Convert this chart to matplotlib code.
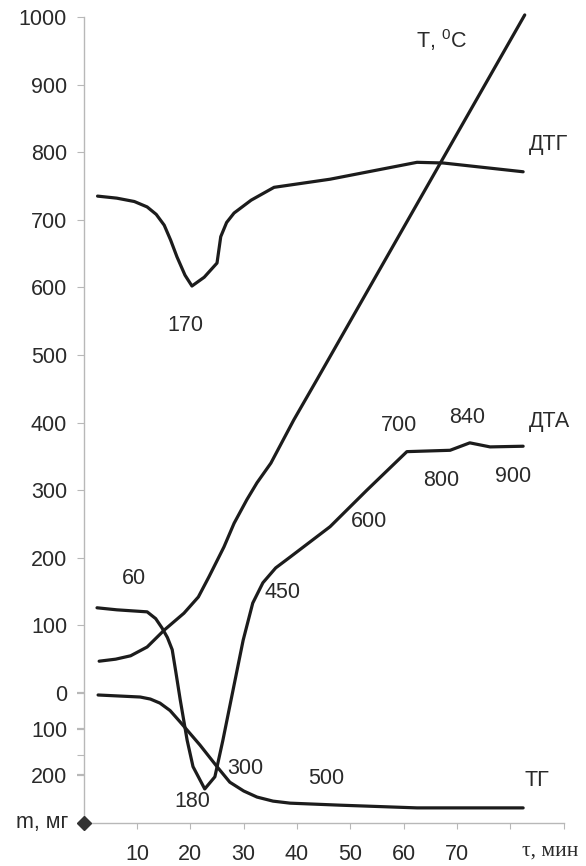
import matplotlib
matplotlib.use('Agg')
import matplotlib.pyplot as plt

plt.rcParams['font.family'] = ['Liberation Sans', 'DejaVu Sans']
plt.rcParams['mathtext.fontset'] = 'custom'
plt.rcParams['mathtext.rm'] = 'Liberation Sans'

# --- Curves (time, min ; value on the left scale) ---

t_T = [2.9, 6.0, 8.8, 11.9, 15.1, 18.8, 21.5, 23.5, 26.3, 28.2, 30.6, 32.5,
       35.1, 39.4, 43.7, 82.7]
v_T = [47, 50, 55, 68, 93, 118, 142, 172, 216, 251, 286, 311,
       340, 404, 463, 1003]

t_dtg = [2.6, 6.2, 9.5, 11.9, 13.6, 15.1, 16.3, 17.5, 19.0, 20.3, 22.6,
         25.0, 25.7, 26.8, 28.2, 31.4, 35.7, 46.2, 62.5, 67.4, 82.4]
v_dtg = [735, 732, 727, 719, 708, 692, 670, 645, 618, 602, 615,
         636, 675, 696, 710, 729, 748, 760, 785, 784, 771]

t_dta = [2.5, 6.2, 11.9, 13.5, 14.7, 15.7, 16.6, 17.3, 18.1, 19.4, 20.5,
         22.7, 24.6, 26.1, 28.0, 29.9, 31.7, 33.6, 36.0, 38.7, 46.2, 53.1,
         60.6, 68.7, 72.4, 76.2, 82.4]
v_dta = [126, 123, 120, 110, 96, 82, 64, 30, -10, -70, -109,
         -142, -124, -70, 4, 78, 133, 163, 185, 201, 246, 300,
         357, 359, 370, 364, 365]

t_tg = [2.7, 10.6, 12.5, 14.3, 16.2, 18.1, 21.8, 25.0, 27.4, 30.0, 32.5,
        35.5, 38.7, 48.1, 62.5, 82.4]
v_tg = [-3, -6, -9, -15, -26, -43, -77, -109, -132, -145, -154,
        -160, -163, -166, -170, -170]

# ticks
x_ticks = [10, 20, 30, 40, 50, 60, 70, 80, 90]
x_labels = ['10', '20', '30', '40', '50', '60', '70', '', '']
y_ticks = [1000, 900, 800, 700, 600, 500, 400, 300, 200, 100, 0, -53, -92, -121]
y_labels = ['1000', '900', '800', '700', '600', '500', '400', '300', '200',
            '100', '0', '100', '', '200']

# annotations: (text, t, v)
notes = [
    ('T, $\\mathrm{^{0}}$C', 67.0, 966),
    ('ДТГ', 87.2, 811),
    ('170', 19.0, 544),
    ('ДТА', 87.4, 401),
    ('700', 59.1, 396),
    ('840', 71.9, 408),
    ('800', 67.0, 315),
    ('900', 80.5, 320),
    ('600', 53.5, 253),
    ('450', 37.2, 148),
    ('60', 9.4, 170),
    ('180', 20.3, -161),
    ('300', 30.3, -112),
    ('500', 45.4, -127),
    ('ТГ', 85.0, -129),
]

ink = '#1c1c1c'
grey = '#b8b8b8'
fs = 15.5

fig = plt.figure(figsize=(5.86, 8.66), dpi=100)
ax = fig.add_axes([0.1428, 0.0497, 0.8191, 0.9307])

for t, v in [(t_T, v_T), (t_dtg, v_dtg), (t_dta, v_dta), (t_tg, v_tg)]:
    ax.plot(t, v, color=ink, lw=2.3, solid_joinstyle='round',
            solid_capstyle='round', clip_on=False)

ax.set_xlim(0, 90)
ax.set_ylim(-192.3, 1000)

for s in ['top', 'right']:
    ax.spines[s].set_visible(False)
for s in ['left', 'bottom']:
    ax.spines[s].set_color(grey)
    ax.spines[s].set_linewidth(1.0)

ax.set_xticks(x_ticks)
ax.set_xticklabels(x_labels)
ax.set_yticks(y_ticks)
ax.set_yticklabels(y_labels)
ax.tick_params(axis='x', length=4, color=grey, labelsize=fs, pad=11,
               labelcolor='#2a2a2a')
ax.tick_params(axis='y', length=5, color=grey, labelsize=fs, pad=7,
               labelcolor='#2a2a2a')
for tk, val in zip(ax.yaxis.get_major_ticks(), y_ticks):
    if val in (0, -53, -121):
        tk.tick1line.set_color('#333333')
        tk.tick1line.set_markeredgewidth(1.6)

for txt, t, v in notes:
    ax.text(t, v, txt, ha='center', va='center', fontsize=fs,
            color='#2a2a2a', clip_on=False)

ax.text(87.4, -234, 'τ, мин', ha='center', va='center', fontsize=fs,
        family=['Liberation Serif', 'DejaVu Serif'], color='#2a2a2a',
        clip_on=False)
ax.text(-7.8, -192.3, 'm, мг', ha='center', va='center', fontsize=fs,
        color='#2a2a2a', clip_on=False)
ax.plot([0], [-192.3], marker='D', ms=7, color='#333333', clip_on=False,
        zorder=5)

fig.savefig('out.png', dpi=100)
